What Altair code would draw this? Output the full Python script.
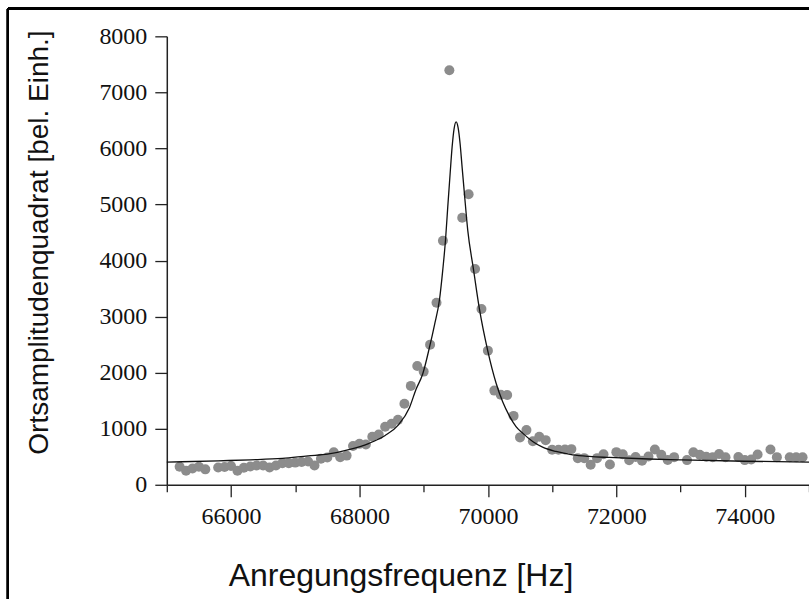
import altair as alt
import pandas as pd

# measured points (frequency in Hz, squared amplitude in arb. units)
freq = [65200, 65300, 65400, 65500, 65600, 65800, 65900, 66000, 66100, 66200,
        66300, 66400, 66500, 66600, 66700, 66800, 66900, 67000, 67100, 67200,
        67300, 67400, 67500, 67600, 67700, 67800, 67900, 68000, 68100, 68200,
        68300, 68400, 68500, 68600, 68700, 68800, 68900, 69000, 69100, 69200,
        69300, 69400, 69600, 69700, 69800, 69900, 70000, 70100, 70200, 70300,
        70400, 70500, 70600, 70700, 70800, 70900, 71000, 71100, 71200, 71300,
        71400, 71500, 71600, 71700, 71800, 71900, 72000, 72100, 72200, 72300,
        72400, 72500, 72600, 72700, 72800, 72900, 73100, 73200, 73300, 73400,
        73500, 73600, 73700, 73900, 74000, 74100, 74200, 74400, 74500, 74700,
        74800, 74900]
amp = [320, 250, 290, 320, 275, 308, 318, 335, 250, 305,
       325, 345, 345, 310, 345, 386, 386, 395, 405, 416,
       345, 465, 485, 580, 493, 520, 690, 730, 720, 855,
       895, 1035, 1087, 1158, 1445, 1764, 2120, 2019, 2500, 3248,
       4352, 7394, 4762, 5184, 3848, 3136, 2393, 1680, 1605, 1603,
       1229, 845, 975, 778, 855, 796, 624, 624, 630, 636,
       475, 475, 356, 475, 546, 360, 582, 546, 436, 495,
       430, 505, 630, 534, 443, 493, 440, 580, 534, 500,
       490, 550, 490, 496, 440, 451, 540, 630, 493, 490,
       490, 490]

# fitted resonance curve
fit_freq = [65000, 65800, 66300, 66800, 67200, 67500, 67850, 68150, 68400, 68600,
            68780, 68880, 68986, 69090, 69168, 69246, 69297, 69339, 69375, 69412,
            69443, 69474, 69505, 69536, 69567, 69598, 69635, 69686, 69775, 69868,
            69997, 70128, 70230, 70334, 70438, 70541, 70697, 70852, 71060, 71319,
            71579, 71890, 72500, 73000, 74000, 75000]
fit_amp = [404, 428, 445, 470, 515, 545, 630, 740, 880, 1060,
           1380, 1700, 1980, 2450, 2850, 3300, 3830, 4352, 4958, 5553,
           6027, 6355, 6473, 6372, 6088, 5671, 5184, 4543, 3848, 3136,
           2393, 1812, 1480, 1230, 1039, 921, 772, 671, 594, 534,
           505, 487, 460, 445, 420, 404]

pts = pd.DataFrame({"f": freq, "a": amp})
fit = pd.DataFrame({"f": fit_freq, "a": fit_amp})

x_ticks = list(range(65000, 75001, 1000))
y_ticks = list(range(0, 8001, 500))

xscale = alt.Scale(domain=[65000, 75000], nice=False, zero=False)
yscale = alt.Scale(domain=[0, 8000], nice=False)

xaxis = alt.Axis(
    values=x_ticks, format="d",
    labelExpr="datum.value % 2000 === 0 ? datum.label : ''",
    tickSize={"condition": {"test": "datum.value % 2000 === 0", "value": 12}, "value": 7},
    labelFont="Liberation Serif", labelFontSize=24, labelColor="#111",
    labelPadding=8, labelOverlap=False, labelFlush=False,
    domainColor="#222", domainWidth=1.5, tickColor="#222", tickWidth=1.3,
    grid=False,
    title="Anregungsfrequenz [Hz]", titleFont="Liberation Sans",
    titleFontSize=32, titleFontWeight="normal", titleColor="#111",
    titleX=234, titleY=101, titleBaseline="alphabetic", titleAlign="center",
)
yaxis = alt.Axis(
    values=y_ticks, format="d",
    labelExpr="datum.value % 1000 === 0 ? datum.label : ''",
    tickSize={"condition": {"test": "datum.value % 1000 === 0", "value": 12}, "value": 7},
    labelFont="Liberation Serif", labelFontSize=24, labelColor="#111",
    labelPadding=8, labelOverlap=False, labelFlush=False,
    domainColor="#222", domainWidth=1.5, tickColor="#222", tickWidth=1.3,
    grid=False,
    title="Ortsamplitudenquadrat [bel. Einh.]", titleFont="Liberation Sans",
    titleFontSize=28, titleFontWeight="normal", titleColor="#111",
    titleAngle=270, titleX=-119, titleY=206, titleBaseline="alphabetic",
    titleAlign="center",
)

points = alt.Chart(pts).mark_circle(size=100, color="#8c8c8c", opacity=1).encode(
    x=alt.X("f:Q", scale=xscale, axis=xaxis),
    y=alt.Y("a:Q", scale=yscale, axis=yaxis),
)
curve = alt.Chart(fit).mark_line(color="#111", strokeWidth=1.3, interpolate="monotone").encode(
    x=alt.X("f:Q", scale=xscale),
    y=alt.Y("a:Q", scale=yscale),
)

frame_top = alt.Chart(pts).mark_rule(color="black", strokeWidth=2, clip=False).encode(
    x=alt.value(-159), x2=alt.value(650), y=alt.value(-28)
)
frame_left = alt.Chart(pts).mark_rule(color="black", strokeWidth=2, clip=False).encode(
    x=alt.value(-159), y=alt.value(-28), y2=alt.value(570)
)

chart = alt.layer(points, curve, frame_top, frame_left).properties(
    width=643, height=449,
    padding={"left": 167, "top": 36, "right": 0, "bottom": 114},
    autosize="none",
).configure(background="white").configure_view(strokeWidth=0)

chart.save("out.html", embed_options={"renderer": "svg", "actions": False})
